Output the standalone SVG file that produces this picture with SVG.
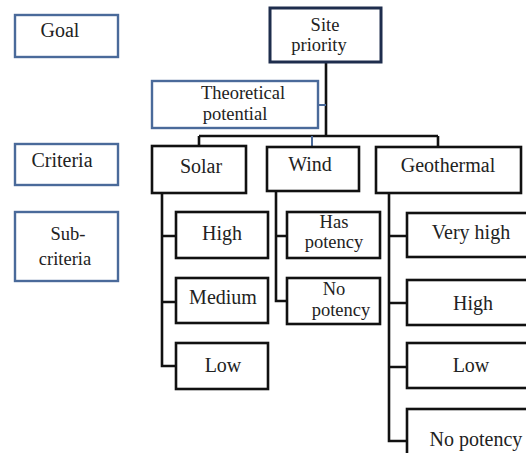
<svg xmlns="http://www.w3.org/2000/svg" width="526" height="453" viewBox="0 0 526 453">
<style>
text{font-family:"Liberation Serif","Times New Roman",serif;font-size:20px;fill:#222;text-anchor:middle}
.t{font-size:18.5px}
.b{fill:#fff;stroke:#111;stroke-width:2.6}
.l{fill:#fff;stroke:#4a6a9a;stroke-width:2.4}
.n{fill:#fff;stroke:#1e2d4d;stroke-width:3}
.c{fill:none;stroke:#111;stroke-width:2.6}
.cb{fill:none;stroke:#4a6a9a;stroke-width:2}
</style>
<rect width="526" height="453" fill="#fff"/>
<g id="connectors">
<path class="c" d="M326 62V136M199 136H438M199 136V146M438 136V147"/>
<path class="cb" d="M318 105H326M312 136V147"/>
<path class="c" d="M162 193V366H176M162 236H176M162 302H176"/>
<path class="c" d="M276 191V301H287M276 236H287"/>
<path class="c" d="M389 193V441H407M389 236H407M389 303H407M389 367H407"/>
</g>
<g id="label-goal"><rect class="l" x="15" y="15" width="103" height="42"/><text x="60" y="37">Goal</text></g>
<g id="label-criteria"><rect class="l" x="15" y="144" width="103" height="41"/><text x="62" y="167">Criteria</text></g>
<g id="label-subcriteria"><rect class="l" x="15" y="212" width="103" height="69"/><text class="t" x="68" y="240">Sub-</text><text class="t" x="65" y="265">criteria</text></g>
<g id="site-priority"><rect class="n" x="270" y="8" width="111" height="54"/><text class="t" x="325" y="31">Site</text><text class="t" x="319" y="51">priority</text></g>
<g id="theoretical-potential"><rect class="l" x="152" y="81" width="166" height="47"/><text class="t" x="243" y="99">Theoretical</text><text class="t" x="235" y="120">potential</text></g>
<g id="solar"><rect class="b" x="152" y="146" width="94" height="47"/><text x="201" y="173">Solar</text></g>
<g id="wind"><rect class="b" x="267" y="147" width="92" height="44"/><text x="310" y="171">Wind</text></g>
<g id="geothermal"><rect class="b" x="376" y="147" width="145" height="46"/><text x="448" y="172">Geothermal</text></g>
<g id="solar-high"><rect class="b" x="176" y="212" width="92" height="46"/><text x="222" y="240">High</text></g>
<g id="solar-medium"><rect class="b" x="176" y="278" width="92" height="45"/><text x="223" y="304">Medium</text></g>
<g id="solar-low"><rect class="b" x="176" y="343" width="92" height="46"/><text x="223" y="372">Low</text></g>
<g id="wind-has"><rect class="b" x="287" y="212" width="93" height="46"/><text class="t" x="334" y="228">Has</text><text class="t" x="334" y="248">potency</text></g>
<g id="wind-no"><rect class="b" x="287" y="278" width="93" height="46"/><text class="t" x="334" y="295">No</text><text class="t" x="341" y="316">potency</text></g>
<g id="geo-veryhigh"><rect class="b" x="407" y="213" width="125" height="44"/><text x="471" y="239">Very high</text></g>
<g id="geo-high"><rect class="b" x="407" y="280" width="125" height="45"/><text x="473" y="310">High</text></g>
<g id="geo-low"><rect class="b" x="407" y="343" width="125" height="45"/><text x="471" y="372">Low</text></g>
<g id="geo-nopotency"><rect class="b" x="407" y="409" width="125" height="60"/><text x="476" y="446">No potency</text></g>
</svg>
